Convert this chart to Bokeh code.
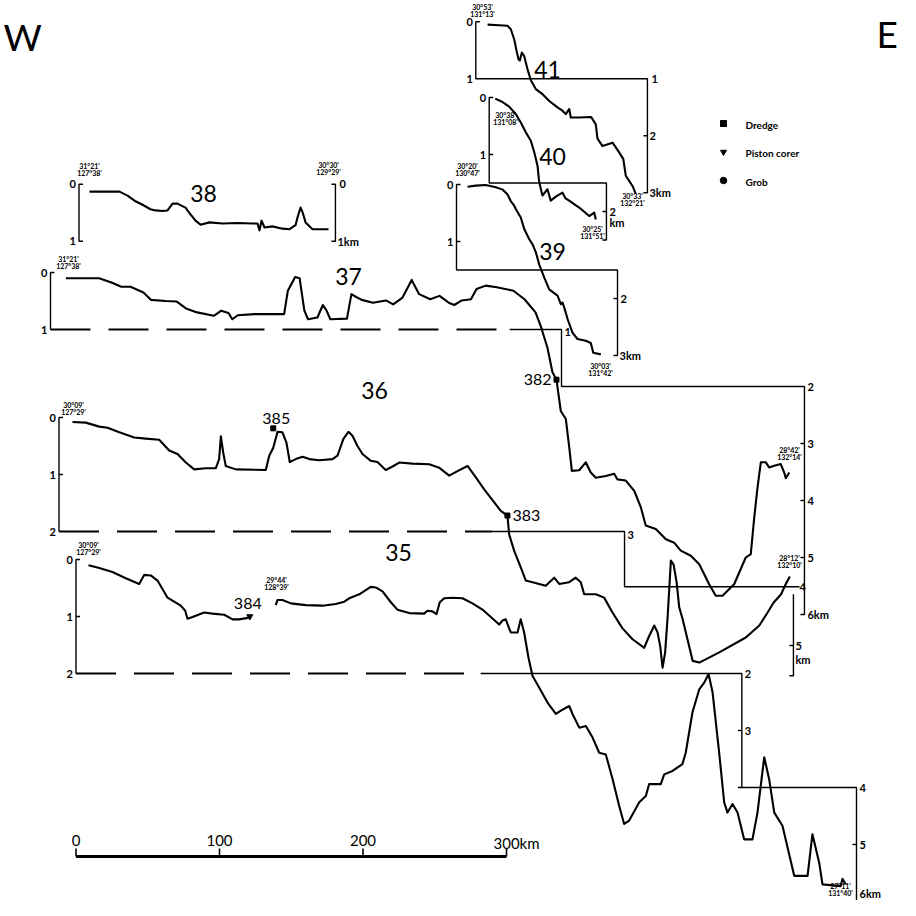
import numpy as np
from bokeh.plotting import figure
from bokeh.models import Range1d
from bokeh.embed import file_html
from bokeh.resources import INLINE
from bokeh.core.properties import value

# ---------------- data: distance along track (km) and depth (km) ----------------
P41_DIST = [8.2, 16.3, 22.1, 24.4, 26.8, 28.4, 29.8, 30.7, 32.1, 33.7,
            36.0, 38.3, 41.8, 46.5, 51.2, 56.9, 60.4, 62.7, 65.1, 66.2,
            72.1, 80.4, 83.6, 84.8, 88.3, 95.3, 99.9, 102.8, 104.5, 109.2, 111.5]
P41_DEPTH = [0.05, 0.06, 0.07, 0.13, 0.31, 0.51, 0.66, 0.68, 0.54, 0.60,
             0.83, 1.02, 1.18, 1.27, 1.39, 1.50, 1.56, 1.62, 1.53, 1.68,
             1.68, 1.67, 1.80, 2.05, 2.18, 2.12, 2.29, 2.41, 2.70, 2.88, 3.02]

P40_DIST = [4.2, 9.3, 13.9, 18.5, 22.0, 25.5, 29.0, 31.4, 33.7, 34.8,
            37.1, 40.6, 42.9, 46.4, 51.1, 53.2, 55.7, 62.7, 69.7, 73.2, 74.3]
P40_DEPTH = [0.02, 0.08, 0.16, 0.29, 0.44, 0.61, 0.76, 0.96, 1.20, 1.48,
             1.72, 1.61, 1.81, 1.74, 1.67, 1.77, 1.81, 1.93, 2.08, 2.02, 2.14]

P39_DIST = [7.7, 13.4, 20.4, 27.4, 32.1, 35.5, 37.8, 40.2, 41.3, 44.8,
            47.2, 50.7, 53.0, 55.3, 57.6, 61.1, 64.6, 70.4, 72.7, 73.9,
            75.1, 77.4, 80.8, 84.3, 90.1, 93.6, 95.3, 100.6]
P39_DEPTH = [0.04, 0.02, 0.01, 0.05, 0.09, 0.17, 0.29, 0.37, 0.43, 0.58,
             0.78, 0.96, 1.05, 1.19, 1.40, 1.63, 1.84, 1.95, 2.10, 2.07,
             2.16, 2.36, 2.60, 2.71, 2.74, 2.78, 2.95, 2.98]

P38_DIST = [7.3, 28.2, 33.8, 39.4, 44.3, 49.8, 53.3, 58.2, 61.7, 65.2,
            68.6, 74.2, 77.7, 81.2, 84.7, 90.9, 100.0, 110.5, 120.9, 124.4,
            125.8, 127.2, 129.3, 134.8, 141.8, 146.7, 150.9, 152.3, 154.4, 155.9,
            157.9, 162.7, 173.9]
P38_DEPTH = [0.13, 0.13, 0.20, 0.30, 0.36, 0.44, 0.46, 0.47, 0.46, 0.34,
             0.34, 0.41, 0.53, 0.64, 0.71, 0.67, 0.69, 0.68, 0.69, 0.69,
             0.81, 0.64, 0.76, 0.74, 0.78, 0.79, 0.72, 0.58, 0.41, 0.50,
             0.67, 0.79, 0.79]

P37_DIST = [10.7, 33.9, 42.9, 49.3, 55.7, 64.8, 70.0, 80.3, 88.0, 94.4,
            102.2, 113.8, 119.0, 124.0, 126.7, 130.5, 142.2, 162.8, 165.4, 170.5,
            173.6, 176.9, 179.5, 186.0, 189.8, 192.4, 195.0, 206.6, 209.7, 213.0,
            216.9, 224.7, 233.7, 238.8, 245.3, 251.7, 256.9, 264.6, 271.1, 277.5,
            281.4, 286.6, 293.0, 296.9, 303.3, 311.0, 322.6, 330.3, 338.0, 341.9,
            346.3, 349.8, 352.6, 355.6, 359.1, 361.5, 363.3, 368.4, 373.0, 376.5,
            380.0, 387.0, 392.8, 395.1, 400.9, 406.8, 411.4, 414.8, 421.8, 428.8,
            434.6, 439.2, 446.2, 452.1, 459.0, 463.6, 468.3, 476.4, 484.5, 488.0,
            490.4, 492.7, 495.0, 498.5, 500.8, 504.3, 508.9, 511.3, 512.4, 514.8]
P37_DEPTH = [0.10, 0.10, 0.18, 0.25, 0.25, 0.35, 0.48, 0.50, 0.51, 0.63,
             0.70, 0.76, 0.67, 0.71, 0.82, 0.75, 0.73, 0.73, 0.32, 0.08,
             0.10, 0.67, 0.82, 0.79, 0.57, 0.67, 0.82, 0.81, 0.38, 0.43,
             0.48, 0.53, 0.49, 0.56, 0.44, 0.13, 0.38, 0.47, 0.41, 0.53,
             0.57, 0.49, 0.47, 0.29, 0.23, 0.26, 0.32, 0.47, 0.70, 0.96,
             1.32, 1.75, 1.88, 2.43, 2.57, 3.07, 3.48, 3.47, 3.33, 3.51,
             3.60, 3.57, 3.53, 3.63, 3.65, 3.83, 4.12, 4.44, 4.50, 4.68,
             4.74, 4.88, 4.97, 5.12, 5.47, 5.67, 5.67, 5.47, 5.00, 4.94,
             4.30, 3.77, 3.33, 3.33, 3.42, 3.39, 3.36, 3.51, 3.61, 3.51]

P36_DIST = [9.4, 18.7, 28.0, 33.8, 42.0, 52.4, 60.5, 69.8, 76.8, 82.6,
            88.4, 94.2, 102.3, 109.3, 111.6, 112.8, 114.4, 116.2, 123.2, 144.1,
            146.5, 149.3, 152.3, 155.7, 158.5, 160.8, 165.0, 169.7, 174.4, 181.3,
            190.6, 194.1, 198.1, 201.7, 204.5, 208.0, 211.5, 217.3, 221.9, 227.7,
            232.4, 237.1, 246.3, 258.0, 264.9, 271.9, 277.7, 284.7, 290.5, 296.3,
            303.3, 307.9, 312.5, 313.7, 317.2, 321.8, 325.3, 330.0, 334.6, 339.2,
            345.1, 348.6, 355.5, 360.1, 363.6, 366.0, 374.1, 379.9, 385.7, 392.7,
            399.7, 407.8, 410.8, 414.8, 417.1, 419.0, 420.6, 422.4, 424.1, 426.4,
            428.3, 430.4, 432.2, 434.6, 441.6, 446.2, 460.1, 478.6, 488.0, 493.8,
            497.9, 503.2, 506.3, 509.3]
P36_DEPTH = [0.08, 0.09, 0.16, 0.18, 0.26, 0.35, 0.37, 0.39, 0.58, 0.64,
             0.79, 0.91, 0.89, 0.89, 0.73, 0.33, 0.61, 0.85, 0.91, 0.92,
             0.67, 0.53, 0.25, 0.26, 0.44, 0.78, 0.73, 0.69, 0.73, 0.75,
             0.73, 0.67, 0.38, 0.25, 0.32, 0.50, 0.64, 0.76, 0.78, 0.92,
             0.86, 0.79, 0.81, 0.82, 0.88, 1.02, 0.94, 0.85, 1.05, 1.26,
             1.49, 1.64, 1.72, 2.05, 2.34, 2.63, 2.86, 2.89, 2.92, 2.95,
             2.81, 2.92, 2.89, 2.81, 2.89, 3.10, 3.10, 3.16, 3.42, 3.70,
             3.89, 4.04, 3.86, 3.65, 3.77, 4.02, 4.39, 4.12, 3.51, 2.51,
             2.58, 2.89, 3.33, 3.54, 4.27, 4.30, 4.12, 3.86, 3.65, 3.42,
             3.25, 3.10, 2.93, 2.79]

P35A_DIST = [8.7, 16.2, 25.4, 34.7, 44.0, 47.5, 52.1, 56.8, 63.8, 73.0,
             76.1, 77.7, 81.2, 89.3, 95.1, 103.3, 109.1, 113.7, 120.7]
P35A_DEPTH = [0.10, 0.15, 0.22, 0.33, 0.43, 0.27, 0.28, 0.37, 0.67, 0.81,
              0.90, 1.04, 1.01, 0.93, 0.95, 0.97, 1.05, 1.05, 1.02]

P35B_DIST = [139.2, 140.4, 143.9, 149.7, 160.1, 171.8, 181.0, 186.9, 190.4, 197.4,
             205.4, 208.9, 213.6, 219.4, 224.0, 232.2, 242.6, 244.9, 248.4, 251.2,
             253.5, 256.6, 262.4, 269.3, 276.3, 283.8, 291.8, 294.9, 297.2, 299.5,
             301.4, 303.0, 307.7, 309.9, 312.3, 315.3, 318.1, 323.9, 328.6, 334.4,
             337.9, 343.7, 346.0, 350.7, 355.3, 359.9, 364.6, 369.2, 373.9, 378.5,
             382.0, 385.5, 392.5, 397.1, 399.4, 407.5, 409.9, 415.7, 422.6, 424.9,
             429.6, 434.3, 437.8, 440.8, 443.6, 448.2, 451.7, 454.0, 457.5, 461.0,
             465.6, 471.4, 474.9, 479.6, 483.0, 486.6, 492.3, 500.5, 509.8, 513.2,
             517.9, 520.2, 532.9, 534.1, 536.4]
P35B_DEPTH = [0.80, 0.71, 0.71, 0.77, 0.80, 0.81, 0.78, 0.74, 0.68, 0.61,
              0.48, 0.49, 0.56, 0.75, 0.88, 0.94, 0.95, 0.90, 0.91, 0.96,
              0.75, 0.68, 0.67, 0.68, 0.77, 0.89, 1.07, 1.14, 1.07, 1.05,
              1.18, 1.28, 1.28, 1.05, 1.28, 1.72, 2.04, 2.30, 2.51, 2.71,
              2.65, 2.57, 2.71, 2.95, 2.92, 3.12, 3.39, 3.42, 3.85, 4.32,
              4.64, 4.58, 4.26, 4.15, 3.94, 3.94, 3.77, 3.71, 3.59, 3.39,
              2.68, 2.28, 2.16, 2.01, 2.33, 3.39, 4.26, 4.44, 4.29, 4.44,
              4.91, 4.91, 4.44, 3.47, 3.85, 4.44, 4.67, 5.55, 5.55, 4.82,
              5.32, 5.70, 5.73, 5.60, 5.70]

STATION_NAMES = ["382", "383", "384", "385"]
STATION_PROFILE = ["37", "36", "35", "36"]
STATION_DIST = [352.6, 312.5, 121.1, 149.3]
STATION_DEPTH = [1.88, 1.72, 1.00, 0.19]
STATION_KIND = ["dredge", "dredge", "piston", "dredge"]

LEGEND_LABELS = ["Dredge", "Piston corer", "Grob"]
LEGEND_MARKERS = ["square", "inverted_triangle", "circle"]
SCALE_TICKS = [0, 100, 200, 300]

# ---------------- layout ----------------
W = H = 900
KM_PX = 1.435       # horizontal scale: pixels per km
DEPTH_PX = 57.0     # vertical scale: pixels per km of depth
FONT = "Lato"
TK = 4 / KM_PX      # tick length


def gx(X):
    return (X - 8.0) / KM_PX


def gy(Y):
    return (Y - 8.0) / DEPTH_PX


ORIGIN = {"41": (483.3, 29.3), "40": (496.7, 105.0), "39": (464.0, 192.0),
          "38": (86.5, 191.7), "37": (58.0, 280.0), "36": (66.5, 425.0),
          "35": (83.5, 567.0)}


def off(key):
    X, Y = ORIGIN[key]
    return gx(X), gy(Y)


p = figure(width=W, height=H, x_range=Range1d(0, W / KM_PX),
           y_range=Range1d(H / DEPTH_PX, 0), output_backend="svg",
           toolbar_location=None, x_axis_location=None, y_axis_location=None,
           min_border=0)
p.xgrid.visible = False
p.ygrid.visible = False
p.grid.grid_line_color = None
p.outline_line_color = None
p.background_fill_color = "white"
p.border_fill_color = "white"


def profile(key, dist, depth):
    ox, oy = off(key)
    p.line(ox + np.asarray(dist), oy + np.asarray(depth), line_color="black",
           line_width=2.1, line_join="round")


def frame(key, pts, width=1.4, dash="solid"):
    ox, oy = off(key)
    p.line([ox + a for a, b in pts], [oy + b for a, b in pts], line_color="black",
           line_width=width, line_dash=dash)


def ptxt(key, d, z, s, size=11, align="left", dx=0, dy=0, bold=True):
    ox, oy = off(key)
    p.text(x=[ox + d], y=[oy + z], text=[s], x_offset=dx, y_offset=dy,
           text_font=value(FONT), text_font_size=f"{size}px", text_align=align,
           text_baseline="middle", text_font_style="bold" if bold else "normal",
           text_color="black")


def txt(X, Y, s, size, align="center", bold=False):
    p.text(x=[gx(X)], y=[gy(Y)], text=[s], text_font=value(FONT),
           text_font_size=f"{size}px", text_align=align, text_baseline="middle",
           text_font_style="bold" if bold else "normal", text_color="black")


# ---------------- frames ----------------
# 41
frame("41", [(TK, 0), (0, 0), (0, 1), (119.6, 1), (119.6, 3), (119.6 - TK, 3)])
frame("41", [(119.6 - TK, 2), (119.6, 2)])
# 40
frame("40", [(TK, 0), (0, 0), (0, 1.5), (81.7, 1.5), (81.7, 2.5), (81.7 - TK, 2.5)])
frame("40", [(0, 1), (TK, 1)])
frame("40", [(81.7 - TK, 2), (81.7, 2)])
# 39
frame("39", [(TK, 0), (0, 0), (0, 1.5), (112.2, 1.5), (112.2, 3), (112.2 - TK, 3)])
frame("39", [(0, 1), (TK, 1)])
frame("39", [(112.2 - TK, 2), (112.2, 2)])
# 38
frame("38", [(TK, 0), (0, 0), (0, 1), (TK, 1)])
frame("38", [(178.7 - TK, 0), (178.7, 0), (178.7, 1), (178.7 - TK, 1)])
# 37
frame("37", [(TK, 0), (0, 0), (0, 1)])
frame("37", [(0, 1), (320, 1)], width=2, dash="40 18")
frame("37", [(320, 1), (356.1, 1), (356.1, 2), (525.4, 2), (525.4, 6), (525.4 - TK, 6)])
for d in (3, 4, 5):
    frame("37", [(525.4 - TK, d), (525.4, d)])
# 36
frame("36", [(TK, 0), (0, 0), (0, 2)])
frame("36", [(0, 1), (TK, 1)])
frame("36", [(0, 2), (302, 2)], width=2, dash="40 18")
frame("36", [(302, 2), (394.1, 2), (394.1, 2.97), (516, 2.97)])
frame("36", [(511.8, 3.1), (511.8, 4.53), (511.8 - TK, 4.53)])
frame("36", [(511.8 - TK, 4.0), (511.8, 4.0)])
# 35
frame("35", [(TK, 0), (0, 0), (0, 2)])
frame("35", [(0, 1), (TK, 1)])
frame("35", [(0, 2), (282, 2)], width=2, dash="40 18")
frame("35", [(282, 2), (464, 2), (464, 4)])
frame("35", [(464 - TK, 3), (464, 3)])
frame("35", [(461.2, 4), (543.9, 4), (543.9, 6.07)])
for d in (5, 6):
    frame("35", [(543.9 - TK, d), (543.9, d)])

# ---------------- profiles ----------------
profile("41", P41_DIST, P41_DEPTH)
profile("40", P40_DIST, P40_DEPTH)
profile("39", P39_DIST, P39_DEPTH)
profile("38", P38_DIST, P38_DEPTH)
profile("37", P37_DIST, P37_DEPTH)
profile("36", P36_DIST, P36_DEPTH)
profile("35", P35A_DIST, P35A_DEPTH)
profile("35", P35B_DIST, P35B_DEPTH)

# ---------------- axis labels ----------------
for key, ticks in {"41": ["0", "1"], "40": ["0", "1"], "39": ["0", "1"],
                   "38": ["0", "1"], "37": ["0", "1"], "36": ["0", "1", "2"],
                   "35": ["0", "1", "2"]}.items():
    for i, t in enumerate(ticks):
        ptxt(key, 0, i, t, align="right", dx=-3)

ptxt("41", 119.6, 1, "1", dx=4)
ptxt("41", 119.6, 2, "2", dx=2)
ptxt("41", 119.6, 3, "3km", dx=2)
ptxt("40", 81.7, 2, "2", dx=3)
ptxt("40", 81.7, 2.2, "km", dx=3)
ptxt("39", 112.2, 2, "2", dx=3)
ptxt("39", 112.2, 3, "3km", dx=2)
ptxt("38", 178.7, 0, "0", dx=4)
ptxt("38", 178.7, 1, "1km", dx=2)
ptxt("37", 356.1, 1, "1", dx=3, dy=2)
for d, t in zip((2, 3, 4, 5, 6), ("2", "3", "4", "5", "6km")):
    ptxt("37", 525.4, d, t, dx=3)
ptxt("36", 394.1, 2, "3", dx=3, dy=3)
ptxt("36", 516, 2.97, "4", dx=0)
ptxt("36", 511.8, 4.0, "5", dx=2)
ptxt("36", 511.8, 4.25, "km", dx=2)
ptxt("35", 464, 2, "2", dx=3)
ptxt("35", 464, 3, "3", dx=3)
for d, t, dy in zip((4, 5, 6), ("4", "5", "6km"), (0, 0, -8)):
    ptxt("35", 543.9, d, t, dx=3, dy=dy)

# ---------------- coordinate labels ----------------
COORDS = [("31°21'", "127°38'", 97, 173), ("30°30'", "129°29'", 336, 172),
          ("31°21'", "127°38'", 76, 266), ("30°09'", "127°29'", 81, 412),
          ("30°09'", "127°29'", 96, 552), ("29°44'", "128°39'", 284, 587),
          ("27°11'", "131°40'", 848, 893), ("30°20'", "130°47'", 475, 173),
          ("30°03'", "131°42'", 608, 373), ("30°38'", "131°08'", 513, 122),
          ("30°25'", "131°51'", 600, 236), ("30°53'", "131°13'", 490, 14),
          ("30°33'", "132°21'", 640, 203), ("28°42'", "132°14'", 797, 457),
          ("28°12'", "132°10'", 797, 565)]
for a, b, X, Y in COORDS:
    txt(X, Y, a, 7, bold=True)
    txt(X, Y + 7, b, 7, bold=True)

# ---------------- profile numbers ----------------
for s, X, Y in [("41", 555, 77), ("40", 560, 164), ("39", 560, 259), ("38", 211, 201),
                ("37", 356, 284), ("36", 382, 398), ("35", 406, 560)]:
    txt(X, Y, s, 23)

txt(11, 44, "W", 37, align="left")
txt(884, 41, "E", 37, align="left")

# ---------------- stations ----------------
for name, key, d, z, kind in zip(STATION_NAMES, STATION_PROFILE, STATION_DIST,
                                 STATION_DEPTH, STATION_KIND):
    ox, oy = off(key)
    if kind == "dredge":
        p.scatter([ox + d], [oy + z], marker="square", size=5, color="black")
    else:
        p.scatter([ox + d], [oy + z], marker="inverted_triangle", size=6, color="black")
ptxt("37", STATION_DIST[0], STATION_DEPTH[0], STATION_NAMES[0], size=16, align="right", dx=-5, bold=False)
ptxt("36", STATION_DIST[1], STATION_DEPTH[1], STATION_NAMES[1], size=16, align="left", dx=5, bold=False)
ptxt("35", STATION_DIST[2], STATION_DEPTH[2], STATION_NAMES[2], size=16, align="center", dx=-2, dy=-13, bold=False)
ptxt("36", STATION_DIST[3], STATION_DEPTH[3], STATION_NAMES[3], size=16, align="center", dx=3, dy=-10, bold=False)

# ---------------- legend ----------------
for i, (lab, mk) in enumerate(zip(LEGEND_LABELS, LEGEND_MARKERS)):
    Y = 131 + i * 28.5
    p.scatter([gx(731)], [gy(Y)], marker=mk, size=6 if mk != "circle" else 6.5, color="black")
    txt(753, Y + 1, lab, 10, align="left", bold=True)

# ---------------- scale bar ----------------
sx0 = gx(83.5)
p.line([sx0 + SCALE_TICKS[0], sx0 + SCALE_TICKS[-1]], [gy(864), gy(864)],
       line_color="black", line_width=3)
p.segment(x0=[sx0 + t for t in SCALE_TICKS], y0=[gy(864)] * len(SCALE_TICKS),
          x1=[sx0 + t for t in SCALE_TICKS], y1=[gy(856)] * len(SCALE_TICKS),
          line_color="black", line_width=1.6)
for t in SCALE_TICKS[:-1]:
    p.text(x=[sx0 + t], y=[gy(848)], text=[str(t)], text_font=value(FONT),
           text_font_size="15px", text_align="center", text_baseline="middle",
           text_color="black")
p.text(x=[sx0 + SCALE_TICKS[-1]], y=[gy(850)], text=[f"{SCALE_TICKS[-1]}km"],
       x_offset=-13, text_font=value(FONT), text_font_size="15px",
       text_align="left", text_baseline="middle", text_color="black")

open("out.html", "w").write(file_html(p, INLINE))
